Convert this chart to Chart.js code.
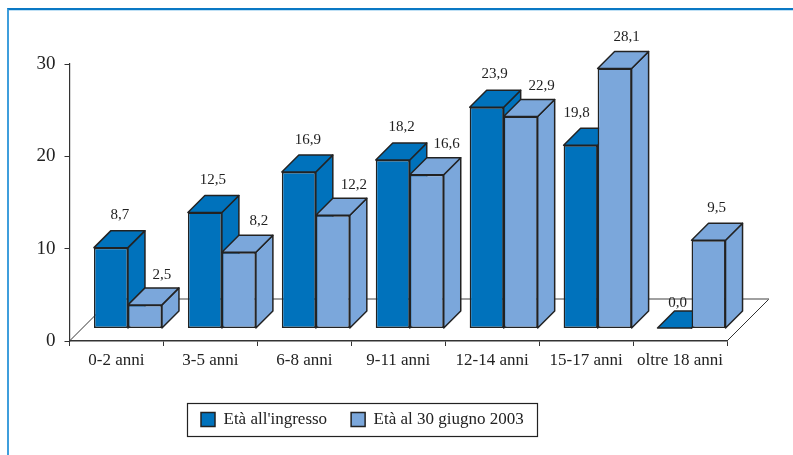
<!DOCTYPE html>
<html lang="it">
<head>
<meta charset="utf-8">
<script src="https://cdn.jsdelivr.net/npm/chart.js@4"></script>
<style>
html,body{margin:0;padding:0;background:#fff;width:793px;height:455px;overflow:hidden}
#frame{position:absolute;left:7px;top:8px;width:790px;height:452px;border-top:2px solid #0a78c4;border-left:2px solid #3f9edc;box-shadow:inset 0 1px 0 #bfe0f5;pointer-events:none}
canvas{position:absolute;left:0;top:0}
</style>
</head>
<body>
<canvas id="c" width="793" height="455"></canvas>
<div id="frame"></div>
<script>
const categories = ['0-2 anni','3-5 anni','6-8 anni','9-11 anni','12-14 anni','15-17 anni','oltre 18 anni'];
const etaIngresso = [8.7,12.5,16.9,18.2,23.9,19.8,0.0];
const eta30Giugno = [2.5,8.2,12.2,16.6,22.9,28.1,9.5];
const seriesNames = ["Età all'ingresso",'Età al 30 giugno 2003'];
const yTicks = [0,10,20,30];

// styling: nudges of the value labels from the bar's centre / front top, in px
const labelNudge = [
  [[9,-33],[8,-33],[9,-32],[9,-33],[8,-33],[-4,-32],[3,-25]],
  [[17,-30],[20,-31],[21,-30],[20,-31],[21,-30],[12,-31],[8,-32]]
];
const DEPTH = 17, FLOOR_DEPTH = 42, STROKE = '#222';
const DARK = '#0072BC', LIGHT = '#7BA7DB';
const FONT = '"Liberation Serif", serif';

const toPoints = arr => arr.map((v,i) => ({x:i,y:v}));

function drawFaces(chart, index){
  const {ctx} = chart, ds = chart.data.datasets[index];
  ctx.save();
  ctx.fillStyle = ds.backgroundColor; ctx.strokeStyle = STROKE; ctx.lineWidth = 1.5; ctx.lineJoin = 'round';
  chart.getDatasetMeta(index).data.forEach(el => {
    const L = el.x-el.width/2, R = el.x+el.width/2, T = el.y, B = el.base;
    ctx.beginPath();
    ctx.moveTo(R,B); ctx.lineTo(R+DEPTH,B-DEPTH); ctx.lineTo(R+DEPTH,T-DEPTH); ctx.lineTo(R,T); ctx.closePath();
    ctx.fill(); ctx.stroke();
    ctx.beginPath();
    ctx.moveTo(L,T); ctx.lineTo(L+DEPTH,T-DEPTH); ctx.lineTo(R+DEPTH,T-DEPTH); ctx.lineTo(R,T); ctx.closePath();
    ctx.fill(); ctx.stroke();
  });
  ctx.restore();
}

const bars3d = {
  id:'bars3d',
  beforeDatasetsDraw(chart){
    const {ctx, scales:{x,y}} = chart;
    const l = x.left, r = x.right, b = y.bottom, d = FLOOR_DEPTH;
    ctx.save();
    ctx.strokeStyle = '#333'; ctx.lineWidth = 1;
    ctx.beginPath(); ctx.moveTo(l,b); ctx.lineTo(l+d,b-d); ctx.moveTo(r,b); ctx.lineTo(r+d,b-d); ctx.stroke();
    ctx.strokeStyle = '#808080'; ctx.lineWidth = 1.5;
    ctx.beginPath(); ctx.moveTo(l+d,b-d); ctx.lineTo(r+d,b-d); ctx.stroke();
    ctx.restore();
  },
  // the second series must sit in front of the first one's side faces,
  // so it is held back and drawn right after the first
  beforeDatasetDraw(chart,args){
    if (args.index === 1) return false;
    drawFaces(chart, args.index);
  },
  afterDatasetDraw(chart,args){
    if (args.index !== 0) return;
    drawFaces(chart, 1);
    chart.getDatasetMeta(1).controller.draw();
  },
  afterDatasetsDraw(chart){
    const {ctx} = chart;
    ctx.save();
    ctx.font = '15px '+FONT; ctx.fillStyle = '#222'; ctx.textAlign = 'center'; ctx.textBaseline = 'middle';
    chart.data.datasets.forEach((ds,i) => {
      chart.getDatasetMeta(i).data.forEach((el,j) => {
        const n = labelNudge[i][j];
        ctx.fillText(ds.data[j].y.toFixed(1).replace('.',','), el.x+n[0], el.y+n[1]);
      });
    });
    ctx.restore();
  }
};

const legendBox = {
  id:'legendBox',
  afterLayout(chart){
    const g = chart.legend;
    g.left = 177; g.right = 640; g.top = 387; g.bottom = 437;
  },
  afterDraw(chart){
    const {ctx} = chart;
    ctx.save(); ctx.strokeStyle = '#222'; ctx.lineWidth = 1.2;
    ctx.strokeRect(187.5, 403.5, 350, 33);
    ctx.restore();
  }
};

new Chart(document.getElementById('c'), {
  type:'bar',
  plugins:[bars3d, legendBox],
  data:{
    labels:categories,
    datasets:[
      {label:seriesNames[0], data:toPoints(etaIngresso), backgroundColor:DARK, borderColor:STROKE, borderWidth:1.5, borderSkipped:false, xAxisID:'xBars', yAxisID:'yBars'},
      {label:seriesNames[1], data:toPoints(eta30Giugno), backgroundColor:LIGHT, borderColor:STROKE, borderWidth:1.5, borderSkipped:false, xAxisID:'xBars', yAxisID:'yBars'}
    ]
  },
  options:{
    responsive:false, animation:false, events:[],
    categoryPercentage:0.724, barPercentage:1,
    layout:{padding:{left:0,top:64,right:66,bottom:0}},
    scales:{
      x:{
        type:'category', position:'bottom', offset:true,
        grid:{offset:true, drawOnChartArea:false, tickLength:5, tickColor:'#333', tickWidth:1},
        border:{color:'#333', width:1.5},
        ticks:{color:'#222', font:{family:FONT,size:17}, padding:4, maxRotation:0, autoSkip:false},
        afterFit(s){ s.height = 63; }
      },
      y:{
        position:'left', min:0, max:30,
        grid:{drawOnChartArea:false, tickLength:5, tickColor:'#333', tickWidth:1},
        border:{color:'#333', width:1.2},
        afterBuildTicks(s){ s.ticks = yTicks.map(v => ({value:v})); },
        ticks:{color:'#222', font:{family:FONT,size:19}, padding:9, callback:v => v},
        afterFit(s){ s.width = 69.5; }
      },
      // the bars stand on a floor set in from the axes: same plot box, shifted ranges
      xBars:{type:'linear', axis:'x', position:'bottom', display:false, offset:false, min:-0.6224, max:6.3776, grid:{display:false}},
      yBars:{type:'linear', axis:'y', position:'left', display:false, min:-1.41, max:28.59, grid:{display:false}}
    },
    plugins:{
      tooltip:{enabled:false},
      title:{display:false},
      legend:{
        display:true, position:'bottom', align:'start',
        labels:{boxWidth:14, boxHeight:14, padding:24, color:'#222', font:{family:FONT,size:17}}
      }
    }
  }
});
</script>
</body>
</html>
